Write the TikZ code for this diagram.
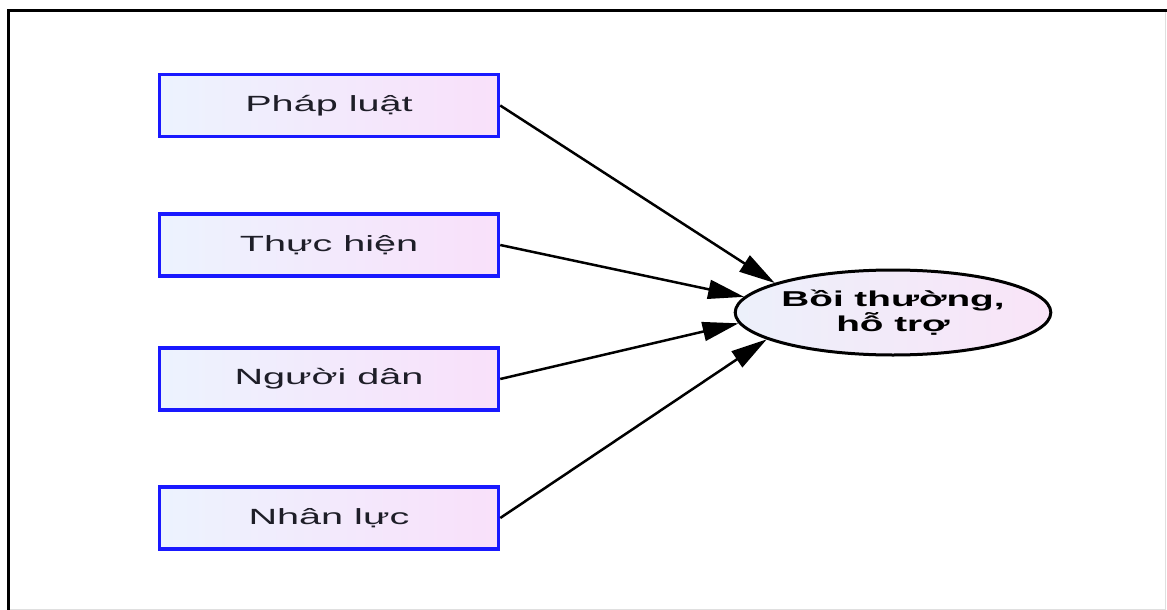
\documentclass[tikz,border=0pt]{standalone}
\usepackage{fontspec}
\usetikzlibrary{shapes.geometric,arrows.meta}
\newfontfamily\wideface[FakeStretch=1.8]{Liberation Sans}
\definecolor{boxblue}{RGB}{25,25,255}
\definecolor{lightblue}{RGB}{236,243,254}
\definecolor{lightpink}{RGB}{249,224,250}
\definecolor{ovalblue}{RGB}{236,240,250}
\definecolor{ovalpink}{RGB}{249,228,248}
\definecolor{inkgray}{RGB}{30,30,40}

\begin{document}
\begin{tikzpicture}[x=1pt, y=-1pt,
  factor/.style={draw=boxblue, line width=3.5pt, left color=lightblue, right color=lightpink, minimum width=339pt, minimum height=62pt, inner sep=0pt, text=inkgray, font=\wideface\fontsize{22}{24}\selectfont},
  result/.style={ellipse, draw=black, line width=3pt, left color=ovalblue, right color=ovalpink, minimum width=300pt, minimum height=85pt, inner sep=0pt, align=center, font=\wideface\bfseries\fontsize{21.5}{19}\selectfont},
  link/.style={-{Triangle[length=36pt,width=19pt]}, line width=2.5pt}]
\useasboundingbox (0,0) rectangle (1167,610);
\draw[gray!25] (1165.5,11) -- (1165.5,609) -- (8.5,609);
\draw[line width=3pt] (8.5,610) -- (8.5,11) -- (1167,11);

\node[factor] (phapluat) at (329,105.5) {Pháp luật};
\node[factor] (thuchien) at (329,245) {Thực hiện};
\node[factor] (nguoidan) at (329,379) {Người dân};
\node[factor] (nhanluc) at (329,518) {Nhân lực};

\node[result] (boithuong) at (893,312.5) {Bồi thường,\\hỗ trợ};

\draw[link] (phapluat.east) -- (boithuong.166);
\draw[link] (thuchien.east) -- (boithuong.174);
\draw[link] (nguoidan.east) -- (boithuong.184);
\draw[link] (nhanluc.east) -- (boithuong.192);
\end{tikzpicture}
\end{document}
